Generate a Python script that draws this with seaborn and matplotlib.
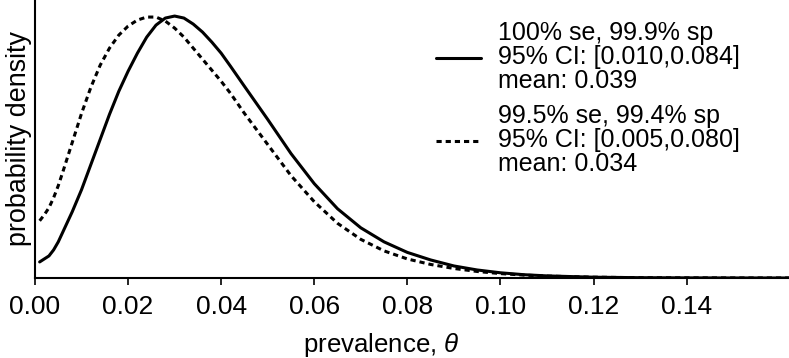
import pandas as pd
from matplotlib import pyplot as plt
import seaborn as sns

# posterior density curves (arbitrary density units)
theta_a = [0.001, 0.002, 0.003, 0.004, 0.005, 0.006, 0.008, 0.010, 0.012, 0.014,
           0.016, 0.018, 0.020, 0.022, 0.024, 0.026, 0.028, 0.030, 0.032, 0.034,
           0.036, 0.038, 0.040, 0.042, 0.045, 0.050, 0.055, 0.060, 0.065, 0.070,
           0.075, 0.080, 0.085, 0.090, 0.095, 0.100, 0.105, 0.110, 0.120, 0.130,
           0.140, 0.150, 0.162]
dens_a = [1.6, 1.9, 2.2, 2.8, 3.6, 4.6, 6.6, 8.8, 11.3, 13.8,
          16.3, 18.6, 20.6, 22.4, 24.0, 25.2, 25.9, 26.1, 25.9, 25.3,
          24.5, 23.5, 22.4, 21.1, 19.1, 15.8, 12.4, 9.4, 6.9, 5.0,
          3.6, 2.55, 1.8, 1.2, 0.8, 0.52, 0.33, 0.21, 0.08, 0.032,
          0.013, 0.005, 0.002]

theta_b = [0.001, 0.002, 0.003, 0.004, 0.005, 0.006, 0.008, 0.010, 0.012, 0.014,
           0.016, 0.018, 0.020, 0.022, 0.024, 0.026, 0.028, 0.030, 0.032, 0.034,
           0.036, 0.038, 0.040, 0.042, 0.045, 0.050, 0.055, 0.060, 0.065, 0.070,
           0.075, 0.080, 0.085, 0.090, 0.095, 0.100, 0.105, 0.110, 0.120, 0.130,
           0.140, 0.150, 0.162]
dens_b = [5.7, 6.3, 7.0, 8.0, 9.2, 10.6, 13.5, 16.4, 19.0, 21.2,
          22.9, 24.2, 25.1, 25.7, 26.0, 26.0, 25.6, 24.9, 24.0, 22.9,
          21.8, 20.7, 19.6, 18.4, 16.4, 13.3, 10.2, 7.6, 5.45, 3.85,
          2.7, 1.9, 1.35, 0.95, 0.65, 0.44, 0.29, 0.19, 0.08, 0.03,
          0.012, 0.005, 0.002]

label_a = "100% se, 99.9% sp\n95% CI: [0.010,0.084]\nmean: 0.039"
label_b = "99.5% se, 99.4% sp\n95% CI: [0.005,0.080]\nmean: 0.034"
xticks = [0.00, 0.02, 0.04, 0.06, 0.08, 0.10, 0.12, 0.14]

sns.set_style("ticks")
plt.rcParams['font.family'] = ['Liberation Sans', 'DejaVu Sans']
plt.rcParams['mathtext.fontset'] = 'custom'
plt.rcParams['mathtext.rm'] = 'Liberation Sans'
plt.rcParams['mathtext.it'] = 'Liberation Sans:italic'
plt.rcParams['text.color'] = 'black'
plt.rcParams['axes.labelcolor'] = 'black'
plt.rcParams['xtick.color'] = 'black'

df_a = pd.DataFrame({'theta': theta_a, 'density': dens_a})
df_b = pd.DataFrame({'theta': theta_b, 'density': dens_b})

fig = plt.figure(figsize=(7.89, 3.58), dpi=100)
ax = fig.add_axes([35 / 789, 1 - 278 / 358, 1 - 35 / 789, 278 / 358])

sns.lineplot(data=df_a, x='theta', y='density', ax=ax, color='black',
             linewidth=2.2, label=label_a)
sns.lineplot(data=df_b, x='theta', y='density', ax=ax, color='black',
             linewidth=2.2, linestyle=(0, (1.7, 1.3)), label=label_b)

ax.set_xlim(0, 0.162)
ax.set_ylim(0, 27.7)
ax.set_xticks(xticks)
ax.set_xticklabels([f"{t:.2f}" for t in xticks])
ax.set_yticks([])
ax.tick_params(axis='x', labelsize=19, length=5, width=1.2, pad=7,
               color='black', labelcolor='black')

ax.set_xlabel(r'prevalence, $\theta$', fontsize=18.6)
ax.xaxis.set_label_coords(0.46, -0.19)
ax.set_ylabel('probability density', fontsize=19.4, labelpad=2)

for side in ['top', 'right']:
    ax.spines[side].set_visible(False)
for side in ['left', 'bottom']:
    ax.spines[side].set_linewidth(1.5)
    ax.spines[side].set_color('black')

leg = ax.legend(loc='upper left', bbox_to_anchor=(436 / 789, 1 - 21 / 358),
                bbox_transform=fig.transFigure, frameon=False, fontsize=18,
                borderpad=0, borderaxespad=0, handlelength=1.8,
                handletextpad=0.7, labelspacing=0.45)
for t in leg.get_texts():
    t.set_linespacing(1.0)
    t.set_color('black')

fig.savefig('out.png', dpi=100)
